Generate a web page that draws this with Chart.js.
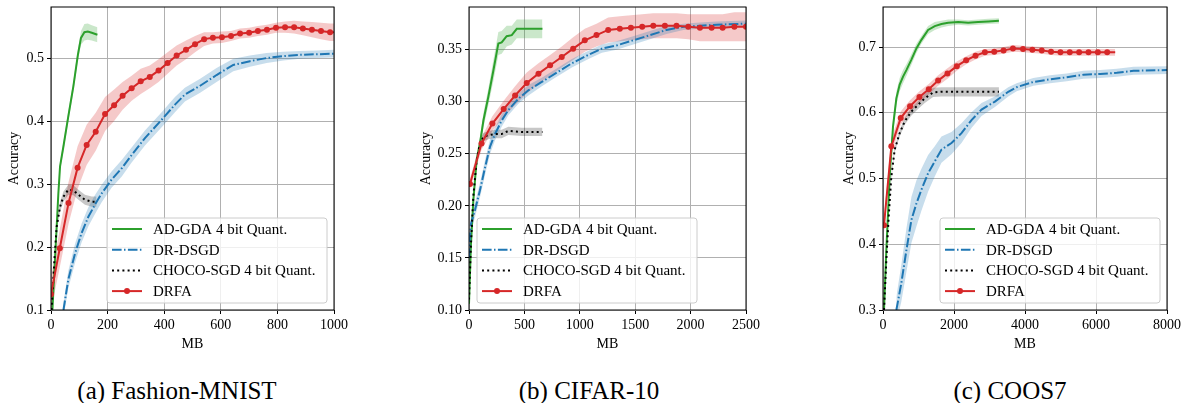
<!DOCTYPE html>
<html>
<head>
<meta charset="utf-8">
<script src="https://cdn.jsdelivr.net/npm/chart.js@4.4.0/dist/chart.umd.min.js"></script>
<style>
  body { margin: 0; background: #fff; width: 1181px; height: 403px; position: relative; overflow: hidden; font-family: "Liberation Serif", serif; }
  .panel { position: absolute; top: 0; height: 355px; }
  .cap { position: absolute; top: 375px; width: 320px; text-align: center; font-size: 25px; line-height: 32px; color: #000; }
</style>
</head>
<body>
<div class="panel" style="left:0px;width:360px"><canvas id="chartA"></canvas></div>
<div class="panel" style="left:414px;width:356px"><canvas id="chartB"></canvas></div>
<div class="panel" style="left:835px;width:346px"><canvas id="chartC"></canvas></div>
<div class="cap" style="left:17px">(a) Fashion-MNIST</div>
<div class="cap" style="left:429px">(b) CIFAR-10</div>
<div class="cap" style="left:850px">(c) COOS7</div>
<script>
const legendLabels = ["AD-GDA 4 bit Quant.", "DR-DSGD", "CHOCO-SGD 4 bit Quant.", "DRFA"];

// (a) Fashion-MNIST
const xTicksA = [0, 200, 400, 600, 800, 1000];
const yTicksA = [0.1, 0.2, 0.3, 0.4, 0.5];
const greenA_mb = [5, 14, 26, 32, 44, 61, 79, 95, 106, 118, 130, 144, 164];
const greenA_acc = [0.1, 0.179, 0.285, 0.328, 0.36, 0.407, 0.455, 0.505, 0.532, 0.541, 0.542, 0.54, 0.537];
const greenA_sd = [0.004, 0.006, 0.006, 0.006, 0.007, 0.008, 0.008, 0.009, 0.011, 0.013, 0.013, 0.012, 0.012];
const blueA_mb = [44, 61, 85, 108, 132, 155, 179, 214, 250, 285, 332, 391, 438, 473, 527, 585, 644, 703, 762, 821, 880, 940, 1000];
const blueA_acc = [0.1, 0.148, 0.19, 0.222, 0.248, 0.267, 0.285, 0.307, 0.325, 0.346, 0.373, 0.402, 0.426, 0.442, 0.456, 0.473, 0.489, 0.495, 0.5, 0.503, 0.505, 0.506, 0.507];
const blueA_sd = [0.012, 0.014, 0.015, 0.015, 0.015, 0.015, 0.014, 0.013, 0.013, 0.012, 0.012, 0.012, 0.012, 0.011, 0.011, 0.011, 0.01, 0.009, 0.008, 0.007, 0.006, 0.006, 0.006];
const chocoA_mb = [2, 12, 20, 32, 44, 61, 79, 97, 120, 144, 161];
const chocoA_acc = [0.1, 0.179, 0.232, 0.264, 0.28, 0.291, 0.29, 0.283, 0.275, 0.272, 0.272];
const chocoA_sd = [0.004, 0.006, 0.007, 0.008, 0.008, 0.008, 0.008, 0.008, 0.008, 0.008, 0.008];
const redA_mb = [0, 31, 62, 94, 126, 158, 191, 223, 253, 285, 317, 349, 380, 412, 444, 477, 509, 541, 572, 604, 636, 668, 700, 731, 763, 795, 827, 859, 890, 922, 954, 986, 1000];
const redA_acc = [0.125, 0.198, 0.27, 0.326, 0.362, 0.383, 0.411, 0.425, 0.44, 0.452, 0.463, 0.47, 0.48, 0.492, 0.504, 0.513, 0.522, 0.53, 0.532, 0.533, 0.535, 0.539, 0.54, 0.543, 0.545, 0.548, 0.549, 0.549, 0.547, 0.545, 0.543, 0.541, 0.541];
const redA_sd = [0.025, 0.03, 0.033, 0.034, 0.032, 0.03, 0.027, 0.025, 0.022, 0.02, 0.02, 0.018, 0.018, 0.017, 0.016, 0.015, 0.013, 0.011, 0.009, 0.009, 0.008, 0.008, 0.008, 0.008, 0.008, 0.008, 0.009, 0.01, 0.011, 0.012, 0.013, 0.014, 0.014];

// (b) CIFAR-10
const xTicksB = [0, 500, 1000, 1500, 2000, 2500];
const yTicksB = [0.10, 0.15, 0.20, 0.25, 0.30, 0.35];
const greenB_mb = [0, 18, 39, 69, 99, 130, 175, 220, 265, 295, 340, 386, 431, 536, 663];
const greenB_acc = [0.106, 0.164, 0.205, 0.244, 0.26, 0.282, 0.305, 0.33, 0.356, 0.357, 0.363, 0.364, 0.37, 0.37, 0.37];
const greenB_sd = [0.004, 0.005, 0.005, 0.006, 0.006, 0.007, 0.008, 0.01, 0.011, 0.011, 0.01, 0.009, 0.009, 0.009, 0.009];
const blueB_mb = [0, 8, 18, 54, 99, 145, 190, 235, 295, 355, 446, 536, 657, 777, 928, 1078, 1199, 1331, 1482, 1633, 1783, 1934, 2084, 2235, 2500];
const blueB_acc = [0.15, 0.17, 0.183, 0.196, 0.215, 0.237, 0.257, 0.269, 0.282, 0.292, 0.303, 0.311, 0.319, 0.327, 0.337, 0.345, 0.351, 0.354, 0.359, 0.364, 0.369, 0.372, 0.373, 0.374, 0.375];
const blueB_sd = [0.006, 0.007, 0.007, 0.007, 0.007, 0.007, 0.007, 0.006, 0.006, 0.005, 0.005, 0.005, 0.004, 0.004, 0.004, 0.004, 0.004, 0.004, 0.004, 0.004, 0.004, 0.003, 0.003, 0.003, 0.003];
const chocoB_mb = [0, 18, 39, 69, 99, 130, 175, 235, 295, 355, 476, 663];
const chocoB_acc = [0.11, 0.164, 0.209, 0.244, 0.26, 0.266, 0.268, 0.269, 0.269, 0.272, 0.271, 0.271];
const chocoB_sd = [0.003, 0.004, 0.004, 0.004, 0.004, 0.004, 0.004, 0.004, 0.004, 0.004, 0.004, 0.004];
const redB_mb = [9, 113, 211, 313, 416, 521, 627, 732, 837, 940, 1045, 1151, 1256, 1361, 1461, 1563, 1663, 1768, 1873, 1979, 2084, 2190, 2289, 2395, 2500];
const redB_acc = [0.221, 0.26, 0.279, 0.293, 0.306, 0.318, 0.327, 0.335, 0.343, 0.351, 0.359, 0.364, 0.369, 0.37, 0.371, 0.372, 0.373, 0.373, 0.373, 0.372, 0.371, 0.371, 0.371, 0.372, 0.372];
const redB_sd = [0.005, 0.006, 0.007, 0.008, 0.009, 0.01, 0.01, 0.01, 0.01, 0.011, 0.011, 0.011, 0.012, 0.012, 0.012, 0.012, 0.012, 0.012, 0.012, 0.012, 0.013, 0.013, 0.013, 0.014, 0.014];

// (c) COOS7
const xTicksC = [0, 2000, 4000, 6000, 8000];
const yTicksC = [0.3, 0.4, 0.5, 0.6, 0.7];
const greenC_mb = [28, 94, 188, 282, 376, 470, 565, 659, 800, 941, 1082, 1270, 1458, 1647, 1835, 2117, 2399, 2682, 2964, 3265];
const greenC_acc = [0.3, 0.391, 0.503, 0.579, 0.622, 0.643, 0.655, 0.665, 0.681, 0.698, 0.711, 0.726, 0.732, 0.735, 0.737, 0.738, 0.737, 0.738, 0.739, 0.74];
const greenC_sd = [0.005, 0.008, 0.01, 0.01, 0.01, 0.01, 0.01, 0.009, 0.008, 0.007, 0.006, 0.006, 0.006, 0.005, 0.005, 0.004, 0.004, 0.004, 0.004, 0.004];
const blueC_mb = [376, 517, 659, 800, 941, 1082, 1270, 1458, 1647, 1929, 2211, 2493, 2776, 3152, 3528, 3765, 4235, 4706, 5176, 5647, 6118, 6588, 7059, 8000];
const blueC_acc = [0.3, 0.341, 0.391, 0.437, 0.462, 0.483, 0.508, 0.526, 0.544, 0.554, 0.569, 0.589, 0.605, 0.617, 0.632, 0.639, 0.647, 0.651, 0.654, 0.658, 0.659, 0.661, 0.664, 0.665];
const blueC_sd = [0.02, 0.028, 0.033, 0.035, 0.035, 0.032, 0.028, 0.023, 0.02, 0.017, 0.015, 0.012, 0.01, 0.008, 0.007, 0.006, 0.006, 0.006, 0.006, 0.006, 0.006, 0.006, 0.006, 0.006];
const chocoC_mb = [28, 94, 160, 235, 329, 470, 612, 800, 988, 1176, 1411, 1647, 2500, 3265];
const chocoC_acc = [0.3, 0.376, 0.442, 0.503, 0.544, 0.569, 0.587, 0.602, 0.612, 0.622, 0.631, 0.632, 0.632, 0.632];
const chocoC_sd = [0.003, 0.004, 0.004, 0.004, 0.004, 0.005, 0.005, 0.006, 0.006, 0.007, 0.007, 0.007, 0.007, 0.007];
const redC_mb = [28, 235, 499, 762, 1026, 1289, 1553, 1816, 2079, 2343, 2606, 2870, 3133, 3396, 3660, 3944, 4207, 4471, 4734, 4998, 5261, 5525, 5788, 6052, 6315, 6541];
const redC_acc = [0.429, 0.549, 0.592, 0.61, 0.624, 0.636, 0.649, 0.66, 0.671, 0.68, 0.687, 0.692, 0.693, 0.695, 0.698, 0.697, 0.696, 0.695, 0.693, 0.692, 0.692, 0.692, 0.692, 0.692, 0.692, 0.692];
const redC_sd = [0.012, 0.012, 0.01, 0.009, 0.009, 0.008, 0.008, 0.008, 0.007, 0.006, 0.006, 0.005, 0.005, 0.005, 0.005, 0.005, 0.005, 0.005, 0.005, 0.005, 0.005, 0.005, 0.005, 0.005, 0.005, 0.005];

Chart.defaults.color = "#000";
Chart.defaults.font.family = "'Liberation Serif', serif";
Chart.defaults.font.size = 14;

const GREEN = "#2ca02c", BLUE = "#1f77b4", RED = "#d62728", BLACK = "#000000";
const styles = [
  { color: GREEN, dash: [], marker: false, band: "rgba(44,160,44,0.25)" },
  { color: BLUE, dash: [9.6, 2.4, 1.5, 2.4], marker: false, band: "rgba(31,119,180,0.25)" },
  { color: BLACK, dash: [2, 3.2], marker: false, band: "rgba(0,0,0,0.22)" },
  { color: RED, dash: [], marker: true, band: "rgba(214,39,40,0.25)" },
];

function pts(mb, vals) {
  return mb.map((x, i) => ({ x: x, y: vals[i] }));
}

function buildDatasets(series) {
  const bands = [], lines = [];
  series.forEach((s, k) => {
    const st = styles[k];
    bands.push({
      data: pts(s[0], s[1].map((v, i) => v + s[2][i])),
      borderWidth: 0, pointRadius: 0, fill: false, order: 20 + k,
    });
    bands.push({
      data: pts(s[0], s[1].map((v, i) => v - s[2][i])),
      borderWidth: 0, pointRadius: 0, fill: "-1", backgroundColor: st.band, order: 20 + k,
    });
    const n = s[0].length;
    lines.push({
      label: legendLabels[k],
      data: pts(s[0], s[1]),
      borderColor: st.color,
      backgroundColor: st.color,
      borderWidth: 2,
      borderDash: st.dash,
      pointRadius: st.marker ? (ctx => (ctx.dataIndex === n - 1 && s[3] ? 0 : 3)) : 0,
      pointBorderWidth: 0,
      fill: false,
      order: 4 - k,
    });
  });
  return bands.concat(lines);
}

const framePlugin = {
  id: "frame",
  afterDatasetsDraw(chart) {
    const a = chart.chartArea, ctx = chart.ctx;
    ctx.save();
    ctx.strokeStyle = "#000";
    ctx.lineWidth = 1;
    ctx.strokeRect(a.left, a.top, a.right - a.left, a.bottom - a.top);
    ctx.restore();
  },
  afterDraw(chart) {
    const a = chart.chartArea, ctx = chart.ctx;
    const w = 220, h = 85;
    const x0 = chart.options.legendSide === "left" ? a.left + 8 : a.right - 7 - w;
    const y0 = a.bottom - 7 - h;
    ctx.save();
    ctx.fillStyle = "rgba(255,255,255,0.8)";
    ctx.strokeStyle = "#cccccc";
    ctx.lineWidth = 1;
    ctx.beginPath();
    ctx.roundRect(x0, y0, w, h, 3);
    ctx.fill();
    ctx.stroke();
    ctx.font = "15px 'Liberation Serif', serif";
    ctx.textBaseline = "middle";
    legendLabels.forEach((lab, i) => {
      const st = styles[i];
      const y = y0 + 11 + i * 20.7;
      ctx.strokeStyle = st.color;
      ctx.lineWidth = 2;
      ctx.setLineDash(st.dash);
      ctx.beginPath();
      ctx.moveTo(x0 + 5, y);
      ctx.lineTo(x0 + 35, y);
      ctx.stroke();
      ctx.setLineDash([]);
      if (st.marker) {
        ctx.fillStyle = st.color;
        ctx.beginPath();
        ctx.arc(x0 + 20, y, 3, 0, Math.PI * 2);
        ctx.fill();
      }
      ctx.fillStyle = "#000";
      ctx.fillText(lab, x0 + 46, y + 1);
    });
    ctx.restore();
  },
};

function makeChart(id, series, cfg) {
  new Chart(document.getElementById(id), {
    type: "line",
    data: { datasets: buildDatasets(series) },
    options: {
      responsive: true,
      maintainAspectRatio: false,
      animation: false,
      legendSide: cfg.legendSide,
      layout: { padding: { top: 7, right: cfg.padRight, left: 0, bottom: 0 } },
      plugins: { legend: { display: false }, tooltip: { enabled: false } },
      scales: {
        x: {
          type: "linear",
          min: cfg.xTicks[0],
          max: cfg.xTicks[cfg.xTicks.length - 1],
          afterBuildTicks: s => { s.ticks = cfg.xTicks.map(v => ({ value: v })); },
          afterFit: s => { s.height = 45; s.paddingLeft = 0; s.paddingRight = 0; },
          ticks: { autoSkip: false, maxRotation: 0, padding: 3, callback: v => String(v) },
          grid: { color: "#b0b0b0", lineWidth: 1, tickColor: "#000", tickLength: 4 },
          border: { display: false },
          title: { display: true, text: "MB", padding: { top: 0, bottom: 2 } },
        },
        y: {
          type: "linear",
          min: cfg.yMin,
          max: cfg.yMax,
          afterBuildTicks: s => { s.ticks = cfg.yTicks.map(v => ({ value: v })); },
          afterFit: s => { s.width = cfg.yWidth; s.paddingTop = 0; s.paddingBottom = 0; },
          ticks: { padding: 3, callback: v => v.toFixed(cfg.dec) },
          grid: { color: "#b0b0b0", lineWidth: 1, tickColor: "#000", tickLength: 4 },
          border: { display: false },
          title: { display: true, text: "Accuracy", padding: { top: cfg.titlePad, bottom: 0 } },
        },
      },
    },
    plugins: [framePlugin],
  });
}

makeChart("chartA", [
  [greenA_mb, greenA_acc, greenA_sd],
  [blueA_mb, blueA_acc, blueA_sd],
  [chocoA_mb, chocoA_acc, chocoA_sd],
  [redA_mb, redA_acc, redA_sd, true],
], { xTicks: xTicksA, yTicks: yTicksA, yMin: 0.1, yMax: 0.581, dec: 1, yWidth: 51, padRight: 26, legendSide: "right", titlePad: 6 });

makeChart("chartB", [
  [greenB_mb, greenB_acc, greenB_sd],
  [blueB_mb, blueB_acc, blueB_sd],
  [chocoB_mb, chocoB_acc, chocoB_sd],
  [redB_mb, redB_acc, redB_sd, false],
], { xTicks: xTicksB, yTicks: yTicksB, yMin: 0.1, yMax: 0.391, dec: 2, yWidth: 55, padRight: 24, legendSide: "left", titlePad: 4 });

makeChart("chartC", [
  [greenC_mb, greenC_acc, greenC_sd],
  [blueC_mb, blueC_acc, blueC_sd],
  [chocoC_mb, chocoC_acc, chocoC_sd],
  [redC_mb, redC_acc, redC_sd, true],
], { xTicks: xTicksC, yTicks: yTicksC, yMin: 0.3, yMax: 0.761, dec: 1, yWidth: 48, padRight: 14, legendSide: "right", titlePad: 6 });
</script>
</body>
</html>
